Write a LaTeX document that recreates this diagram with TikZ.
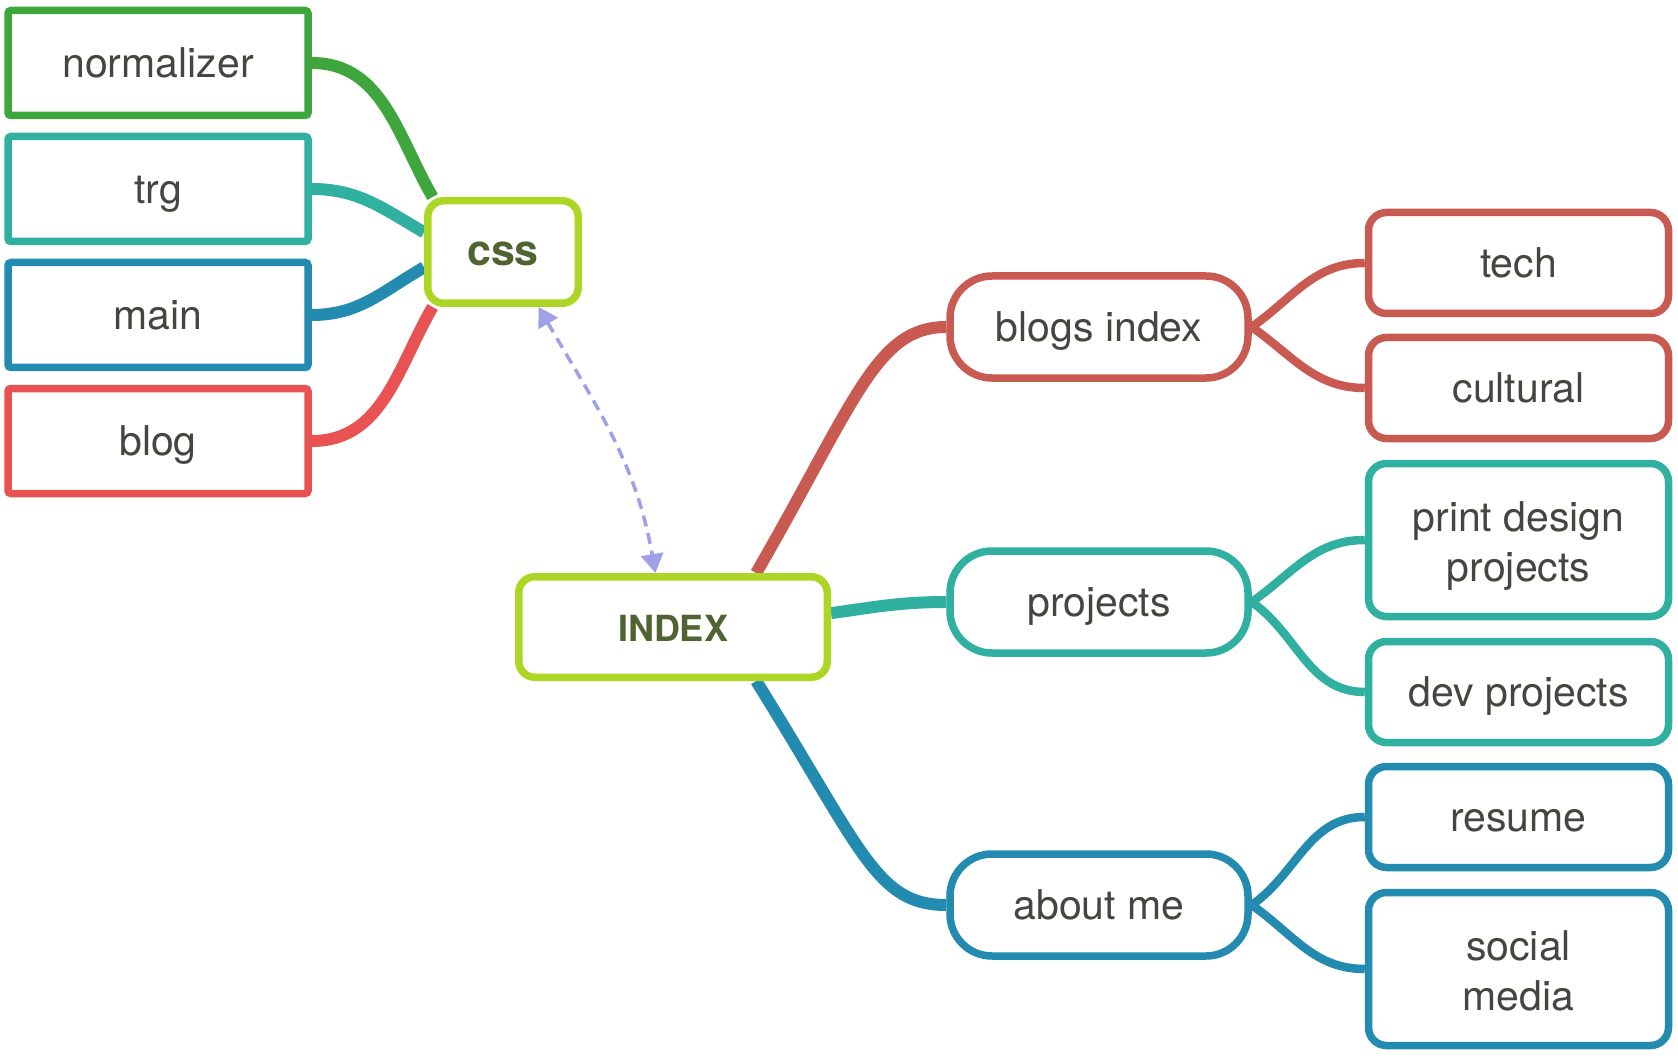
\documentclass[tikz,border=0pt]{standalone}
\usepackage{fontspec}
\setmainfont{TeX Gyre Heros}
\usetikzlibrary{arrows.meta,backgrounds}
\definecolor{cgreen}{HTML}{3FA63D}
\definecolor{cteal}{HTML}{2FB0A0}
\definecolor{cblue}{HTML}{228BAF}
\definecolor{cred}{HTML}{E85252}
\definecolor{cbrick}{HTML}{C95A51}
\definecolor{clime}{HTML}{ADD523}
\definecolor{colive}{HTML}{4F6431}
\definecolor{carrow}{HTML}{A0A0E8}
\definecolor{ctext}{HTML}{46453F}
\newcommand{\lowline}[1]{\raisebox{-6pt}[30pt][9pt]{#1}}
\begin{document}
\begin{tikzpicture}[x=1pt,y=1pt,
  box/.style={draw, line width=7.5pt, fill=white, align=center, text=ctext, inner sep=0pt,
    font=\fontsize{41}{50}\selectfont},
  oneline/.style={text height=38.5pt, text depth=9pt},
  leftbox/.style={box, oneline, minimum width=300pt, minimum height=105pt, rounded corners=3pt},
  rightbox/.style={box, minimum width=300pt, minimum height=101pt, rounded corners=18pt},
  shortbox/.style={rightbox, oneline},
  tallbox/.style={rightbox, minimum height=153pt},
  pill/.style={box, oneline, minimum width=298pt, minimum height=102pt, rounded corners=42pt},
  hub/.style={box, draw=clime, text=colive, rounded corners=16pt},
  lconn/.style={line width=12pt},
  mconn/.style={line width=12pt},
  rconn/.style={line width=8.5pt},
  dasharrow/.style={carrow, line width=3.5pt, dash pattern=on 11pt off 7pt,
    {Triangle[length=19pt,width=22pt]}-{Triangle[length=19pt,width=22pt]}}
]
\useasboundingbox (0,0) rectangle (1678,-1056);

% left column
\node[leftbox, draw=cgreen] (normalizer) at (158,-63) {normalizer};
\node[leftbox, draw=cteal] (trg) at (158,-189) {trg};
\node[leftbox, draw=cblue] (mainbox) at (158,-315) {main};
\node[leftbox, draw=cred] (blog) at (158,-441) {blog};

% hubs
\node[hub, minimum width=150.5pt, minimum height=102.5pt, text height=27pt, text depth=0pt,
  font=\fontsize{43}{49}\selectfont\bfseries] (css) at (503,-252) {css};
\node[hub, minimum width=308.5pt, minimum height=100.5pt, text height=28pt, text depth=0pt,
  font=\fontsize{36}{44}\selectfont\bfseries] (index) at (673,-627) {INDEX};

% middle column
\node[pill, draw=cbrick] (blogs) at (1099,-327) {blogs index};
\node[pill, draw=cteal] (projects) at (1099,-602) {projects};
\node[pill, draw=cblue] (about) at (1099,-905) {about me};

% right column
\node[shortbox, draw=cbrick] (tech) at (1518.5,-263) {tech};
\node[shortbox, draw=cbrick] (cultural) at (1518.5,-388) {cultural};
\node[tallbox, draw=cteal] (print) at (1518.5,-540) {\lowline{print design}\\\lowline{projects}};
\node[shortbox, draw=cteal] (dev) at (1518.5,-692) {dev projects};
\node[shortbox, draw=cblue] (resume) at (1518.5,-817) {resume};
\node[tallbox, draw=cblue] (social) at (1518.5,-969) {\lowline{social}\\\lowline{media}};

\begin{scope}[on background layer]
  \draw[lconn, cgreen] (normalizer.east) to[out=0, in=120] (css.142);
  \draw[lconn, cteal] (trg.east) to[out=0, in=150] (css.166);
  \draw[lconn, cblue] (mainbox.east) to[out=0, in=-150] (css.191);
  \draw[lconn, cred] (blog.east) to[out=0, in=-120] (css.218);

  \draw[mconn, cbrick] (index.33) to[out=60, in=180, out distance=200pt, in distance=70pt] (blogs.west);
  \draw[mconn, cteal] (index.5.5) to[out=8, in=180] (projects.west);
  \draw[mconn, cblue] (index.-33) to[out=-58, in=180, out distance=200pt, in distance=70pt] (about.west);

  \draw[rconn, cbrick] (blogs.east) to[out=35, in=180] (tech.west);
  \draw[rconn, cbrick] (blogs.east) to[out=-35, in=180] (cultural.west);
  \draw[rconn, cteal] (projects.east) to[out=35, in=180] (print.west);
  \draw[rconn, cteal] (projects.east) to[out=-35, in=180] (dev.west);
  \draw[rconn, cblue] (about.east) to[out=35, in=180] (resume.west);
  \draw[rconn, cblue] (about.east) to[out=-35, in=180] (social.west);
\end{scope}

\draw[dasharrow] (css.-57) to[out=-60, in=100] (index.108);
\end{tikzpicture}
\end{document}
